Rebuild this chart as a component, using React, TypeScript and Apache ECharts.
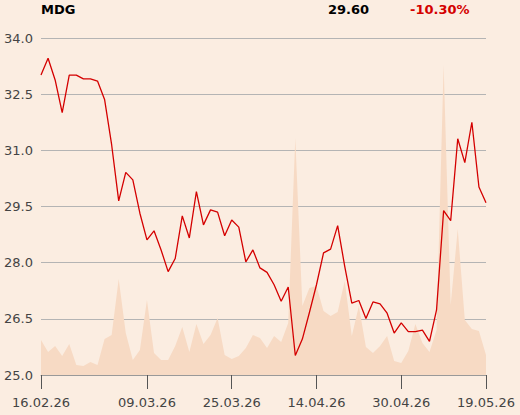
import React, { useEffect, useRef } from "react";
import * as echarts from "echarts";

const dates: string[] = [
  "16.02.26", "17.02.26", "18.02.26", "19.02.26", "20.02.26",
  "23.02.26", "24.02.26", "25.02.26", "26.02.26", "27.02.26",
  "02.03.26", "03.03.26", "04.03.26", "05.03.26", "06.03.26",
  "09.03.26", "10.03.26", "11.03.26", "12.03.26", "13.03.26",
  "16.03.26", "17.03.26", "18.03.26", "19.03.26", "20.03.26",
  "23.03.26", "24.03.26", "25.03.26", "26.03.26", "27.03.26",
  "30.03.26", "31.03.26", "01.04.26", "02.04.26",
  "07.04.26", "08.04.26", "09.04.26", "10.04.26",
  "13.04.26", "14.04.26", "15.04.26", "16.04.26", "17.04.26",
  "20.04.26", "21.04.26", "22.04.26", "23.04.26", "24.04.26",
  "27.04.26", "28.04.26", "29.04.26", "30.04.26",
  "04.05.26", "05.05.26", "06.05.26", "07.05.26", "08.05.26",
  "11.05.26", "12.05.26", "13.05.26", "14.05.26", "15.05.26",
  "18.05.26", "19.05.26",
];

const prices: number[] = [
  33.01, 33.46, 32.88, 32.01, 33.01, 33.01, 32.91, 32.91, 32.85, 32.36,
  31.15, 29.65, 30.41, 30.21, 29.32, 28.61, 28.85, 28.34, 27.76, 28.11,
  29.25, 28.66, 29.9, 29.01, 29.41, 29.35, 28.72, 29.14, 28.95, 28.02,
  28.34, 27.86, 27.74, 27.41, 26.97, 27.35, 25.52, 25.96, 26.67, 27.41,
  28.26, 28.36, 28.99, 27.9, 26.92, 26.99, 26.51, 26.95, 26.9, 26.65,
  26.12, 26.39, 26.16, 26.16, 26.2, 25.9, 26.74, 29.39, 29.12, 31.31,
  30.67, 31.75, 30.02, 29.6,
];

const volumes: number[] = [
  35, 23, 29, 19, 31, 10, 9, 13, 10, 36,
  40, 96, 42, 15, 25, 75, 22, 15, 15, 29,
  48, 23, 51, 31, 40, 57, 20, 16, 19, 27,
  40, 37, 27, 39, 33, 52, 237, 69, 87, 89,
  64, 59, 63, 94, 39, 69, 28, 22, 29, 39,
  14, 12, 24, 51, 32, 23, 45, 310, 70, 146,
  55, 46, 44, 20,
];

const labelDates: string[] = ["16.02.26", "09.03.26", "25.03.26", "14.04.26", "30.04.26", "19.05.26"];
const yTicks: number[] = [25.0, 26.5, 28.0, 29.5, 31.0, 32.5, 34.0];

const title = "MDG";
const lastPrice = "29.60";
const change = "-10.30%";

const FONT = "DejaVu Sans";
const BG = "#fbede1";

export default function App() {
  const ref = useRef<HTMLDivElement>(null);
  useEffect(() => {
    if (!ref.current) return;
    const chart = echarts.init(ref.current, null, { renderer: "svg" });
    const showIdx = (i: number) => labelDates.includes(dates[i]);
    chart.setOption({
      animation: false,
      backgroundColor: BG,
      textStyle: { fontFamily: FONT },
      grid: { left: 41, right: 34, top: 38, bottom: 40, containLabel: false },
      graphic: [
        { type: "text", left: 41, top: 3, style: { text: title, font: `bold 13px '${FONT}'`, fill: "#000" } },
        { type: "text", right: 151, top: 3, style: { text: lastPrice, font: `bold 13px '${FONT}'`, fill: "#000" } },
        { type: "text", left: 410, top: 3, style: { text: change, font: `bold 13px '${FONT}'`, fill: "#d40000" } },
      ],
      xAxis: {
        type: "category",
        data: dates,
        boundaryGap: false,
        axisLine: { show: true, lineStyle: { color: "#999", width: 1 } },
        axisTick: { show: true, length: 14, interval: (i: number) => showIdx(i), lineStyle: { color: "#555" } },
        axisLabel: {
          interval: (i: number) => showIdx(i),
          color: "#444",
          fontSize: 13,
          fontFamily: FONT,
          margin: 21,
          showMinLabel: true,
          showMaxLabel: true,
        },
        splitLine: { show: false },
      },
      yAxis: [
        {
          type: "value",
          min: yTicks[0],
          max: yTicks[yTicks.length - 1],
          interval: 1.5,
          axisLine: { show: false },
          axisTick: { show: false },
          axisLabel: {
            color: "#444",
            fontSize: 13,
            fontFamily: FONT,
            margin: 8,
            formatter: (v: number) => v.toFixed(1),
          },
          splitLine: { show: true, lineStyle: { color: "#b4b4b4", width: 1 } },
        },
        { type: "value", min: 0, max: 337, show: false, splitLine: { show: false } },
      ],
      series: [
        {
          type: "line",
          yAxisIndex: 1,
          data: volumes,
          symbol: "none",
          lineStyle: { width: 0 },
          areaStyle: { color: "#f7dac4", opacity: 1 },
          z: 1,
        },
        {
          type: "line",
          yAxisIndex: 0,
          data: prices,
          symbol: "none",
          lineStyle: { color: "#d40000", width: 1.3 },
          z: 3,
        },
      ],
    });
    return () => chart.dispose();
  }, []);
  return (
    <div
      ref={ref}
      style={{ position: "absolute", left: 0, top: 0, width: 520, height: 415, background: BG }}
    />
  );
}
